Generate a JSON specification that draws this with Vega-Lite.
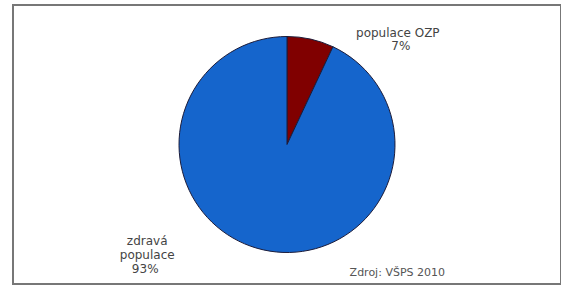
{
  "$schema": "https://vega.github.io/schema/vega-lite/v6.json",
  "autosize": {"type": "none"},
  "width": 548,
  "height": 279,
  "padding": {"left": 13, "top": 5, "right": 0, "bottom": 1},
  "background": "white",
  "view": {"stroke": "#777777", "strokeWidth": 2},
  "title": {
    "text": "Zdroj: VŠPS 2010",
    "orient": "bottom",
    "anchor": "end",
    "offset": -17,
    "dx": -116,
    "font": "DejaVu Sans",
    "fontSize": 11,
    "fontWeight": "normal",
    "color": "#555555"
  },
  "data": {
    "values": [
      {"category": "populace OZP", "value": 0.07},
      {"category": "zdravá populace", "value": 0.93}
    ]
  },
  "encoding": {
    "theta": {"field": "value", "type": "quantitative", "stack": true},
    "order": {"field": "value", "type": "quantitative", "sort": "ascending"}
  },
  "layer": [
    {
      "mark": {"type": "arc", "outerRadius": 108, "stroke": "#1c1c3a", "strokeWidth": 1},
      "encoding": {
        "color": {
          "field": "category",
          "type": "nominal",
          "scale": {"domain": ["populace OZP", "zdravá populace"], "range": ["#800000", "#1565cc"]},
          "legend": null
        }
      }
    },
    {
      "mark": {"type": "text", "radius": 100, "dx": 89, "dy": -14, "font": "DejaVu Sans", "fontSize": 12, "fill": "#444444", "align": "center", "baseline": "middle"},
      "encoding": {
        "text": {"condition": {"test": "datum.category === 'populace OZP'", "field": "category"}, "value": ""}
      }
    },
    {
      "mark": {"type": "text", "radius": 100, "dx": 92, "dy": -1, "font": "DejaVu Sans", "fontSize": 12, "fill": "#444444", "align": "center", "baseline": "middle"},
      "encoding": {
        "text": {"condition": {"test": "datum.category === 'populace OZP'", "field": "value", "format": ".0%"}, "value": ""}
      }
    },
    {
      "mark": {"type": "text", "radius": 100, "dx": -118, "dy": -1, "lineBreak": " ", "lineHeight": 14, "font": "DejaVu Sans", "fontSize": 12, "fill": "#444444", "align": "center", "baseline": "middle"},
      "encoding": {
        "text": {"condition": {"test": "datum.category === 'zdravá populace'", "field": "category"}, "value": ""}
      }
    },
    {
      "mark": {"type": "text", "radius": 100, "dx": -120, "dy": 27, "font": "DejaVu Sans", "fontSize": 12, "fill": "#444444", "align": "center", "baseline": "middle"},
      "encoding": {
        "text": {"condition": {"test": "datum.category === 'zdravá populace'", "field": "value", "format": ".0%"}, "value": ""}
      }
    }
  ]
}
